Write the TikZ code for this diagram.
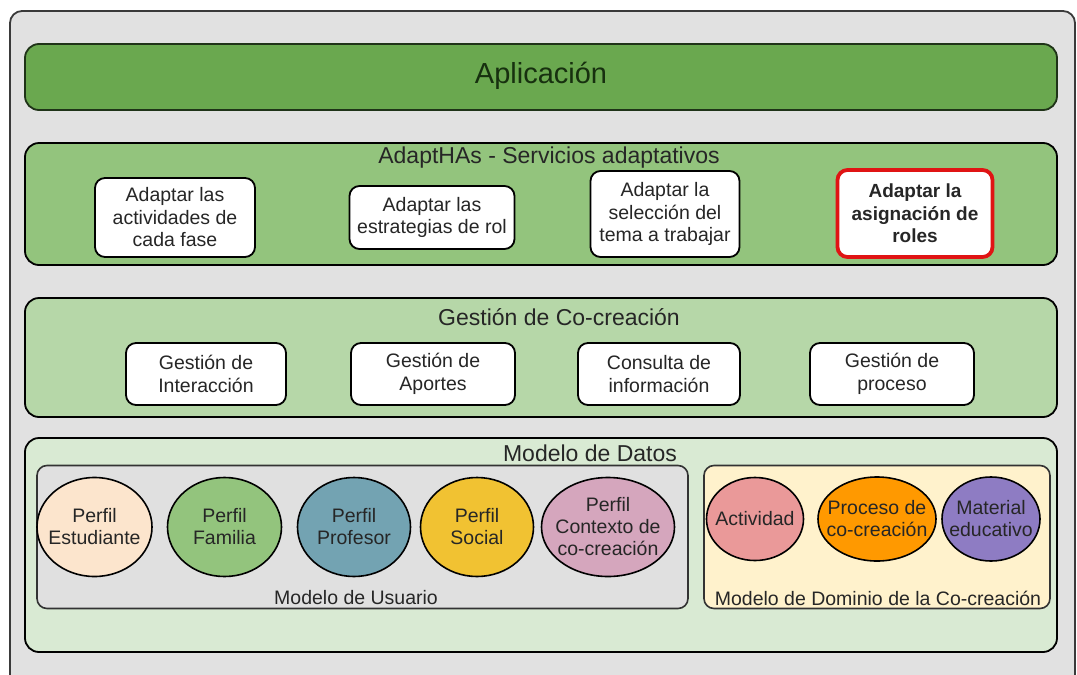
\documentclass[tikz,border=0pt]{standalone}
\usepackage{fontspec}
\setmainfont{Liberation Sans}
\usetikzlibrary{shapes.geometric}
\definecolor{framebg}{HTML}{E1E1E1}
\definecolor{framecol}{HTML}{3A3A3A}
\definecolor{appgreen}{HTML}{6AA84F}
\definecolor{appborder}{HTML}{1F3318}
\definecolor{apptext}{HTML}{17300F}
\definecolor{adaptgreen}{HTML}{93C47D}
\definecolor{gestgreen}{HTML}{B6D7A8}
\definecolor{datosgreen}{HTML}{D9EAD3}
\definecolor{userbg}{HTML}{E0E0E0}
\definecolor{domainbg}{HTML}{FFF2CC}
\definecolor{estc}{HTML}{FCE5CD}
\definecolor{famc}{HTML}{93C47D}
\definecolor{profc}{HTML}{73A3B2}
\definecolor{socc}{HTML}{F1C232}
\definecolor{ctxc}{HTML}{D5A6BD}
\definecolor{actc}{HTML}{EA9999}
\definecolor{procc}{HTML}{FF9900}
\definecolor{matc}{HTML}{8E7CC3}
\definecolor{txt}{HTML}{262626}
\definecolor{redb}{HTML}{E01414}
\begin{document}
\begin{tikzpicture}[x=1pt,y=-1pt,
  band/.style={draw=black, line width=1.8pt, rounded corners=14pt, inner sep=0pt},
  sbox/.style={draw=black, line width=1.8pt, fill=white, rounded corners=10pt, inner sep=0pt, align=center, text=txt, font=\fontsize{19.5}{22.5}\selectfont},
  redbox/.style={sbox, draw=redb, line width=3.8pt, font=\bfseries\fontsize{19}{22.5}\selectfont},
  sub/.style={draw=black!80, line width=1.6pt, rounded corners=10pt, inner sep=0pt},
  ell/.style={ellipse, draw=black, line width=1.6pt, inner sep=0pt},
  elltxt/.style={inner sep=0pt, align=center, text=txt, font=\fontsize{19.5}{22}\selectfont},
  title/.style={text=txt, inner sep=0pt, font=\fontsize{23}{26}\selectfont},
  lbl/.style={text=txt, inner sep=0pt, font=\fontsize{19.5}{22}\selectfont}
]
\useasboundingbox (0,0) rectangle (1077,675);
\begin{scope}
\clip (0,0) rectangle (1077,675);
\draw[framecol, line width=1.8pt, fill=framebg, rounded corners=12pt] (10,11) rectangle (1075,700);
\end{scope}

% Aplicacion
\node[band, draw=appborder, fill=appgreen, minimum width=1032pt, minimum height=66pt] (app) at (541,77) {};
\node[title, text=apptext, font=\fontsize{29}{32}\selectfont] (apptxt) at (541,76) {Aplicación};

% AdaptHAs
\node[band, fill=adaptgreen, minimum width=1032pt, minimum height=122pt] (adapt) at (541,204) {};
\node[title] (adapttxt) at (549,158) {AdaptHAs - Servicios adaptativos};
\node[sbox, minimum width=160pt, minimum height=79pt] (a1) at (175,217.5) {Adaptar las\\actividades de\\cada fase};
\node[sbox, minimum width=165pt, minimum height=63pt] (a2) at (432,217.5) {Adaptar las\\estrategias de rol};
\node[sbox, minimum width=149pt, minimum height=86pt] (a3) at (665,214) {Adaptar la\\selección del\\tema a trabajar};
\node[redbox, minimum width=155pt, minimum height=87pt] (a4) at (915,213.5) {Adaptar la\\asignación de\\roles};

% Gestion
\node[band, fill=gestgreen, minimum width=1032pt, minimum height=119pt] (gest) at (541,357.5) {};
\node[title] (gesttxt) at (559,317) {Gestión de Co-creación};
\node[sbox, minimum width=160pt, minimum height=62pt] (g1) at (206,374) {Gestión de\\Interacción};
\node[sbox, minimum width=164pt, minimum height=62pt] (g2) at (433,374) {Gestión de\\Aportes};
\node[sbox, minimum width=162pt, minimum height=62pt] (g3) at (659,374) {Consulta de\\información};
\node[sbox, minimum width=164pt, minimum height=62pt] (g4) at (892,374) {Gestión de\\proceso};

% Modelo de Datos
\node[band, fill=datosgreen, minimum width=1032pt, minimum height=214pt] (datos) at (541,545) {};
\node[title] (datostxt) at (590,453) {Modelo de Datos};

% Modelo de Usuario
\node[sub, fill=userbg, minimum width=651pt, minimum height=143pt] (usr) at (362.5,537) {};
\node[lbl] (usrtxt) at (356,598) {Modelo de Usuario};
\node[ell, fill=estc, minimum width=115pt, minimum height=99pt] (e1) at (94.5,527) {};
\node[elltxt] (e1t) at (e1) {Perfil\\Estudiante};
\node[ell, fill=famc, minimum width=114pt, minimum height=99pt] (e2) at (224.5,527) {};
\node[elltxt] (e2t) at (e2) {Perfil\\Familia};
\node[ell, fill=profc, minimum width=113pt, minimum height=99pt] (e3) at (354,527) {};
\node[elltxt] (e3t) at (e3) {Perfil\\Profesor};
\node[ell, fill=socc, minimum width=113pt, minimum height=99pt] (e4) at (477,527) {};
\node[elltxt] (e4t) at (e4) {Perfil\\Social};
\node[ell, fill=ctxc, minimum width=133pt, minimum height=99pt] (e5) at (608,527) {};
\node[elltxt] (e5t) at (e5) {Perfil\\Contexto de\\co-creación};

% Modelo de Dominio
\node[sub, fill=domainbg, minimum width=346pt, minimum height=143pt] (dom) at (877,537) {};
\node[lbl] (domtxt) at (878,598) {Modelo de Dominio de la Co-creación};
\node[ell, fill=actc, minimum width=97pt, minimum height=83pt] (d1) at (755,519) {};
\node[elltxt] (d1t) at (d1) {Actividad};
\node[ell, fill=procc, minimum width=118pt, minimum height=84pt] (d2) at (877,519) {};
\node[elltxt] (d2t) at (d2) {Proceso de\\co-creación};
\node[ell, fill=matc, minimum width=98pt, minimum height=84pt] (d3) at (991,519) {};
\node[elltxt] (d3t) at (d3) {Material\\educativo};
\end{tikzpicture}
\end{document}
